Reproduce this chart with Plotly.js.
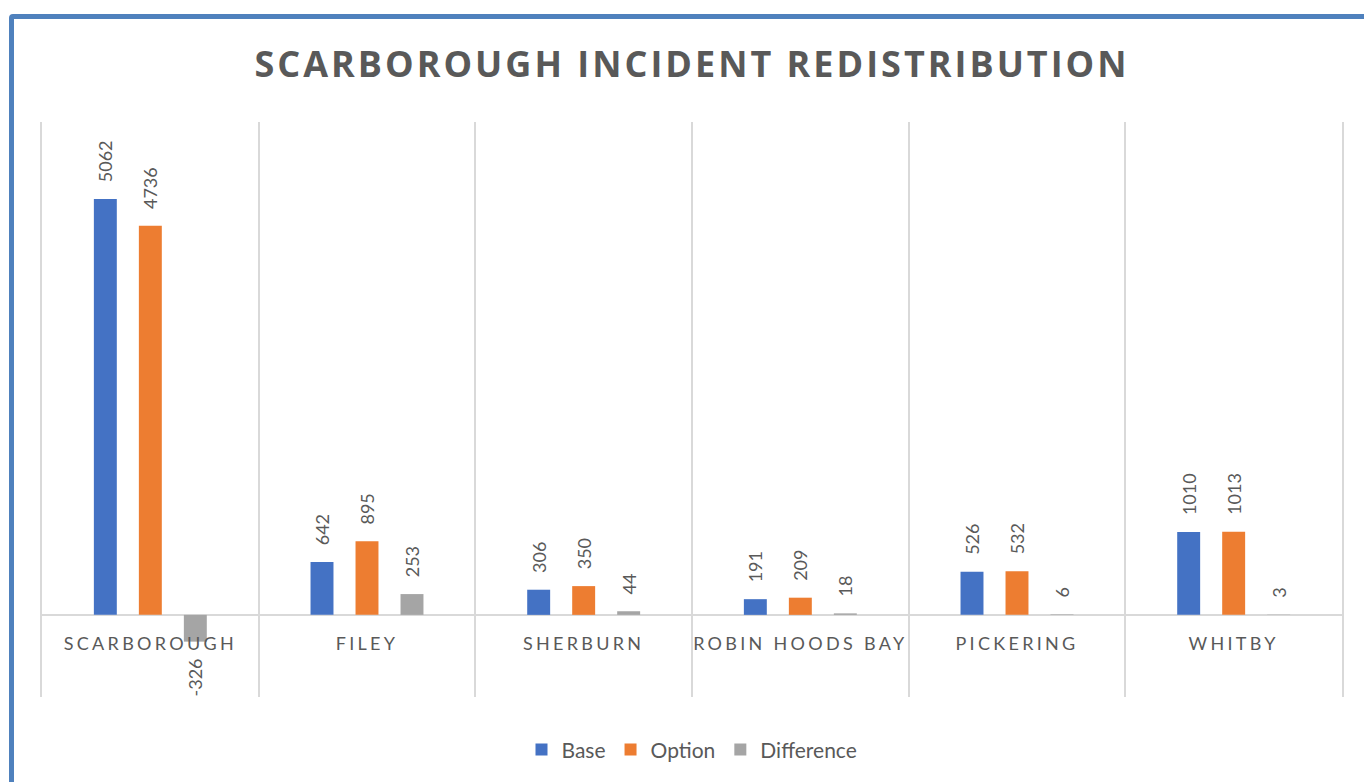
<!DOCTYPE html>
<html>
<head>
<meta charset="utf-8">
<script src="https://cdn.plot.ly/plotly-3.0.1.min.js"></script>
<style>
  html, body { margin: 0; padding: 0; background: #fff; overflow: hidden; }
  #wrap { position: relative; width: 1364px; height: 782px; }
  #chart { width: 1364px; height: 782px; }
  #frame { position: absolute; left: 9px; top: 14px; width: 1400px; height: 820px;
           border: 5px solid #4F81BD; border-radius: 4px; pointer-events: none; box-sizing: border-box; }
  .xtick text { letter-spacing: 3.3px; }
  .gtitle { letter-spacing: 3px; }
</style>
</head>
<body>
<div id="wrap">
  <div id="chart"></div>
  <div id="frame"></div>
</div>
<script>
const categories = ['SCARBOROUGH', 'FILEY', 'SHERBURN', 'ROBIN HOODS BAY', 'PICKERING', 'WHITBY'];
const baseValues = [5062, 642, 306, 191, 526, 1010];
const optionValues = [4736, 895, 350, 209, 532, 1013];
const differenceValues = [-326, 253, 44, 18, 6, 3];
const yRange = [-1000, 6000];

const pad = '\u00a0\u00a0\u00a0';
function labels(vals) {
  return vals.map(v => v >= 0 ? pad + v : v + pad);
}

const labelFont = { family: 'Lato, "Open Sans", sans-serif', size: 18, color: '#595959' };

function series(name, vals, color) {
  return {
    type: 'bar', name: name, x: categories, y: vals,
    marker: { color: color },
    text: labels(vals), textposition: 'outside', textangle: -90,
    constraintext: 'none',
    textfont: labelFont, cliponaxis: false, hoverinfo: 'skip'
  };
}

const data = [
  series('Base', baseValues, '#4472C4'),
  series('Option', optionValues, '#ED7D31'),
  series('Difference', differenceValues, '#A5A5A5')
];

const layout = {
  width: 1364, height: 782,
  margin: { l: 42, r: 22, t: 122, b: 85 },
  paper_bgcolor: '#ffffff', plot_bgcolor: '#ffffff',
  barmode: 'group', bargap: 0.377, bargroupgap: 0.49,
  title: {
    text: '<b>SCARBOROUGH INCIDENT REDISTRIBUTION</b>',
    font: { family: '"Open Sans", sans-serif', size: 36, color: '#595959' },
    x: 0.5, xref: 'paper', xanchor: 'center', y: 0.918, yref: 'container', yanchor: 'middle'
  },
  xaxis: {
    type: 'category', range: [-0.5, categories.length - 0.5],
    anchor: 'free', position: -yRange[0] / (yRange[1] - yRange[0]),
    tickson: 'boundaries', showgrid: true, gridcolor: '#d9d9d9', gridwidth: 2,
    ticks: '', showline: false, zeroline: false,
    tickfont: { family: 'Lato, "Open Sans", sans-serif', size: 18, color: '#595959' },
    ticklabelstandoff: 16, fixedrange: true
  },
  yaxis: {
    range: yRange, showgrid: false, showticklabels: false, ticks: '',
    zeroline: true, zerolinecolor: '#d9d9d9', zerolinewidth: 2,
    showline: true, mirror: true, linecolor: '#d9d9d9', linewidth: 2, fixedrange: true
  },
  showlegend: true,
  legend: {
    orientation: 'h', x: 0.5, xanchor: 'center', y: -0.092, yanchor: 'middle',
    font: { family: 'Lato, "Open Sans", sans-serif', size: 21, color: '#595959' },
    itemwidth: 30, traceorder: 'normal'
  },
  hovermode: false
};

Plotly.newPlot('chart', data, layout, { displayModeBar: false, staticPlot: true });
</script>
</body>
</html>
